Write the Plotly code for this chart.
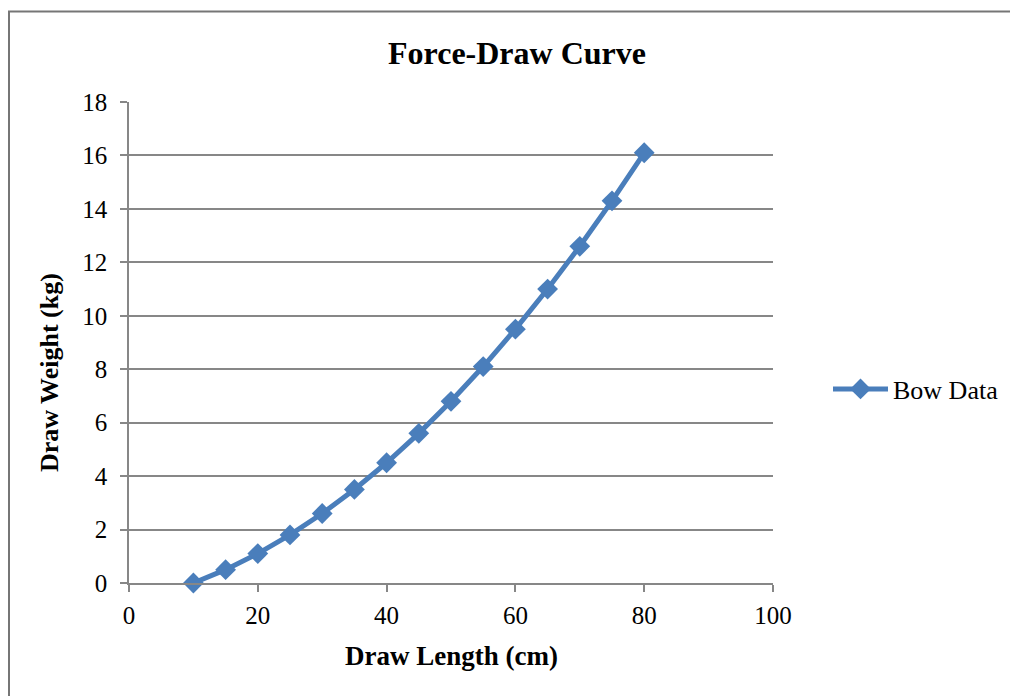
import plotly.graph_objects as go

draw_length = [10, 15, 20, 25, 30, 35, 40, 45, 50, 55, 60, 65, 70, 75, 80]
draw_weight = [0, 0.5, 1.1, 1.8, 2.6, 3.5, 4.5, 5.6, 6.8, 8.1, 9.5, 11, 12.6, 14.3, 16.1]
series_name = "Bow Data"
x_ticks = [0, 20, 40, 60, 80, 100]
y_ticks = [0, 2, 4, 6, 8, 10, 12, 14, 16, 18]

W, H = 1010, 696
L, R, T, B = 129, 237, 102, 113
pw, ph = W - L - R, H - T - B

def px2paper_x(px):
    return (px - L) / pw

def px2paper_y(py):
    return (H - B - py) / ph

FONT = "Liberation Serif, Times New Roman, serif"
BLUE = "#4A7EBB"
GRID = "#878787"

fig = go.Figure()
fig.add_trace(go.Scatter(
    x=draw_length, y=draw_weight, name=series_name, mode="lines+markers",
    line=dict(color=BLUE, width=5),
    marker=dict(symbol="diamond", size=16, color=BLUE),
    showlegend=True, cliponaxis=False,
))

fig.update_layout(
    width=W, height=H,
    margin=dict(l=L, r=R, t=T, b=B, autoexpand=False),
    paper_bgcolor="white", plot_bgcolor="white",
    font=dict(family=FONT, size=25, color="black"),
    title=dict(text="<b>Force-Draw Curve</b>", x=517 / W, xanchor="center",
               y=1 - 53 / H, yanchor="middle", font=dict(size=32)),
    xaxis=dict(range=[0, 100], tickvals=x_ticks, showgrid=False,
               showline=True, linecolor=GRID, linewidth=1.5,
               ticks="outside", ticklen=7, tickcolor=GRID, tickwidth=1.5,
               zeroline=False, fixedrange=True, tickfont=dict(size=25),
               ticklabelstandoff=2, automargin=False),
    yaxis=dict(range=[0, 18], tickvals=y_ticks, showgrid=True,
               gridcolor=GRID, gridwidth=1.5,
               showline=True, linecolor=GRID, linewidth=1.5,
               ticks="outside", ticklen=7, tickcolor=GRID, tickwidth=1.5,
               zeroline=False, fixedrange=True, tickfont=dict(size=25),
               ticklabelstandoff=8, automargin=False),
    legend=dict(x=px2paper_x(828), y=px2paper_y(389), xanchor="left", yanchor="middle",
                font=dict(size=26), itemwidth=55, bgcolor="rgba(0,0,0,0)"),
    annotations=[
        dict(text="<b>Draw Length (cm)</b>", xref="paper", yref="paper",
             x=px2paper_x(451), y=px2paper_y(656), xanchor="center", yanchor="middle",
             showarrow=False, font=dict(size=27)),
        dict(text="<b>Draw Weight (kg)</b>", xref="paper", yref="paper",
             x=px2paper_x(49), y=px2paper_y(373), xanchor="center", yanchor="middle",
             textangle=-90, showarrow=False, font=dict(size=26)),
    ],
    shapes=[
        dict(type="rect", xref="paper", yref="paper",
             x0=px2paper_x(9), x1=px2paper_x(1030), y0=px2paper_y(720), y1=px2paper_y(11.5),
             line=dict(color="#767676", width=2), fillcolor="rgba(0,0,0,0)", layer="below"),
    ],
)

fig.write_html("out.html", config={"displayModeBar": False})
